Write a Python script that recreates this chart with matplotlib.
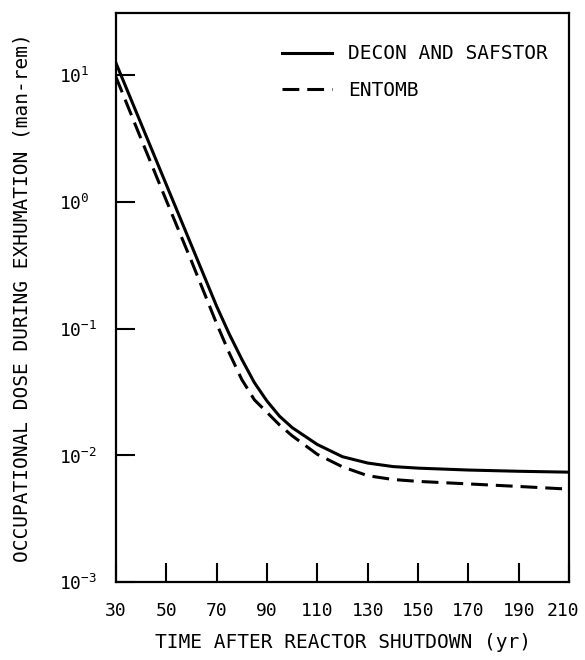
import matplotlib
matplotlib.use("Agg")
import matplotlib.pyplot as plt
import matplotlib.transforms as mtransforms
from matplotlib.ticker import FixedLocator, NullLocator, FixedFormatter

# dose during exhumation vs. time after shutdown
years = [30, 40, 50, 60, 70, 75, 80, 85, 90, 95, 100, 110, 120, 130, 140, 150, 170, 190, 210]
decon_safstor = [12.6, 4.17, 1.38, 0.457, 0.151, 0.0912, 0.0575, 0.0376, 0.0269, 0.0204, 0.0166,
                 0.0122, 0.00977, 0.00871, 0.00817, 0.00794, 0.00767, 0.0075, 0.00738]
entomb = [9.77, 3.16, 1.035, 0.343, 0.110, 0.0646, 0.0398, 0.0275, 0.0219, 0.0174, 0.0143,
          0.0102, 0.00813, 0.00692, 0.00646, 0.00624, 0.00596, 0.00569, 0.00542]

x_ticks = [30, 50, 70, 90, 110, 130, 150, 170, 190, 210]
y_ticks = [1e-3, 1e-2, 1e-1, 1e0, 1e1]
y_tick_labels = ["$10^{-3}$", "$10^{-2}$", "$10^{-1}$", "$10^{0}$", "$10^{1}$"]

plt.rcParams["font.family"] = ["DejaVu Sans Mono"]
plt.rcParams["mathtext.default"] = "regular"
plt.rcParams["font.size"] = 14

fig = plt.figure(figsize=(5.85, 6.6), dpi=100)
ax = fig.add_axes([0.198, 0.118, 0.775, 0.862])

ax.plot(years, decon_safstor, color="black", lw=2.2, label="DECON AND SAFSTOR")
ax.plot(years, entomb, color="black", lw=2.2, dashes=(5.5, 2.6), label="ENTOMB")

ax.set_yscale("log")
ax.set_xlim(30, 210)
ax.set_ylim(1e-3, 31)

ax.xaxis.set_major_locator(FixedLocator(x_ticks))
ax.yaxis.set_major_locator(FixedLocator(y_ticks))
ax.yaxis.set_major_formatter(FixedFormatter(y_tick_labels))
ax.yaxis.set_minor_locator(NullLocator())
ax.xaxis.set_minor_locator(NullLocator())

ax.tick_params(direction="in", length=14, width=1.5, labelsize=13)
ax.tick_params(axis="x", pad=14)
# y labels start from a common left edge
ax.tick_params(axis="y", pad=41)
for lab in ax.get_yticklabels():
    lab.set_horizontalalignment("left")
for side in ["left", "right", "top", "bottom"]:
    ax.spines[side].set_linewidth(1.6)

# pull the last x label in so it stays on the page
last = ax.xaxis.get_major_ticks()[-1].label1
last.set_transform(last.get_transform() +
                   mtransforms.ScaledTranslation(-6 / 100, 0, fig.dpi_scale_trans))

ax.set_xlabel("TIME AFTER REACTOR SHUTDOWN (yr)", fontsize=14, labelpad=10)
ax.set_ylabel("OCCUPATIONAL DOSE DURING EXHUMATION (man-rem)", fontsize=14, labelpad=20)

ax.legend(loc="upper left", bbox_to_anchor=(0.366, 0.945), frameon=False,
          handlelength=2.6, handletextpad=0.8, labelspacing=0.9,
          borderpad=0, borderaxespad=0, fontsize=14)

fig.savefig("out.png", dpi=100)
